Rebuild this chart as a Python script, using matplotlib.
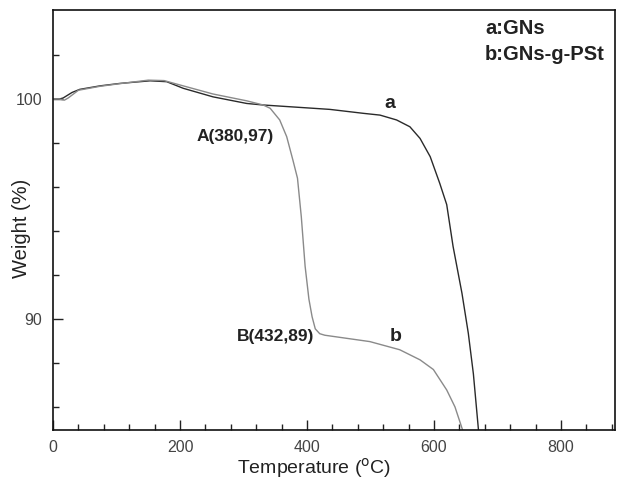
import matplotlib
matplotlib.use("Agg")
import matplotlib.pyplot as plt
from matplotlib.ticker import MultipleLocator, FixedLocator

plt.rcParams['font.family'] = ['Liberation Sans', 'DejaVu Sans']

# Curve a: GNs
temp_a = [0, 10, 16, 30, 42, 74, 105, 153, 179, 205, 252, 305, 331, 410, 436, 489, 515,
          541, 562, 578, 594, 609, 620, 630, 644, 654, 662, 670]
wt_a = [100.0, 100.0, 100.05, 100.3, 100.44, 100.6, 100.71, 100.83, 100.79, 100.49,
        100.1, 99.8, 99.73, 99.58, 99.53, 99.35, 99.27, 99.05, 98.74, 98.21, 97.38,
        96.17, 95.2, 93.3, 91.17, 89.35, 87.5, 84.95]

# Curve b: GNs-g-PSt
temp_b = [0, 10, 18, 24, 40, 74, 105, 150, 175, 200, 252, 305, 331, 342, 357, 368,
          378, 385, 391, 397, 403, 408, 413, 420, 428, 499, 546, 578, 599, 620, 633, 645]
wt_b = [100.0, 100.0, 99.95, 100.05, 100.4, 100.58, 100.7, 100.86, 100.84, 100.64,
        100.23, 99.92, 99.73, 99.58, 99.05, 98.29, 97.2, 96.4, 94.65, 92.4, 90.9,
        90.1, 89.55, 89.33, 89.26, 88.97, 88.6, 88.14, 87.7, 86.77, 86.0, 84.95]

fig = plt.figure(figsize=(6.17, 4.80), dpi=100)
ax = fig.add_axes([53/617, 1-430/480, (615-53)/617, (430-10)/480])

ax.plot(temp_a, wt_a, color='#2a2a2a', lw=1.0)
ax.plot(temp_b, wt_b, color='#8a8a8a', lw=1.0)

ax.set_xlim(0, 885)
ax.set_ylim(84.95, 104.05)

ax.xaxis.set_major_locator(MultipleLocator(200))
ax.xaxis.set_minor_locator(MultipleLocator(40))
ax.yaxis.set_major_locator(FixedLocator([90, 100]))
ax.yaxis.set_minor_locator(FixedLocator([86, 88, 92, 94, 96, 98, 102]))

ax.tick_params(which='both', direction='in', top=False, right=False, colors='#222222',
               labelcolor='#444444', labelsize=11.5)
ax.tick_params(which='major', length=7, width=1)
ax.tick_params(which='minor', length=4, width=1)
ax.tick_params(axis='x', pad=7)
ax.tick_params(axis='y', pad=8)
for s in ax.spines.values():
    s.set_linewidth(1.2)
    s.set_color('#111111')

ax.set_xlabel('Temperature ($^{\\mathrm{o}}$C)', fontsize=14, color='#222222')
ax.xaxis.set_label_coords((314-53)/562, -(468-430)/420)
ax.xaxis.label.set_va('center')
ax.set_ylabel('Weight (%)', fontsize=14.5, color='#222222')
ax.yaxis.set_label_coords(-(53-22)/562, (430-228)/420)
ax.yaxis.label.set_va('center')

ann = dict(fontsize=12.5, fontweight='bold', color='#222222')
lab = dict(fontsize=14, fontweight='bold', color='#222222')
ax.text(530, 99.8, 'a', ha='center', va='center', **lab)
ax.text(540, 89.2, 'b', ha='center', va='center', **lab)
ax.text(287, 98.3, 'A(380,97)', ha='center', va='center', **ann)
ax.text(351, 89.2, 'B(432,89)', ha='center', va='center', **ann)

leg = dict(fontsize=14.5, fontweight='bold', color='#222222')
fig.text(485/617, 1-29/480, 'a:GNs', ha='left', va='center', **leg)
fig.text(485/617, 1-55/480, 'b:GNs-g-PSt', ha='left', va='center', **leg)

fig.savefig('out.png', dpi=100)
